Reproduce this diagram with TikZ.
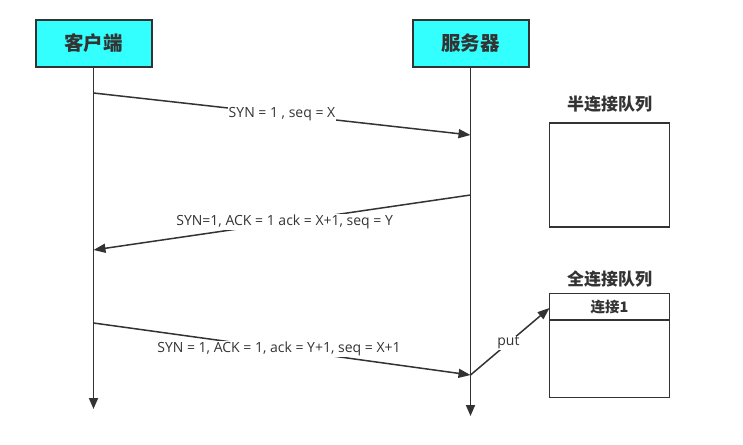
\documentclass[tikz,border=0pt]{standalone}
\usepackage{fontspec}
\setmainfont{Open Sans}
\newfontfamily\cjk{Noto Sans CJK SC}
\usetikzlibrary{arrows.meta}
\definecolor{ink}{HTML}{333333}
\definecolor{cyanfill}{HTML}{33FFFF}
\begin{document}
\begin{tikzpicture}[x=1pt,y=-1pt,
  actor/.style={draw=ink,line width=2pt,fill=cyanfill,minimum width=116pt,minimum height=46pt,inner sep=0pt,font=\cjk\bfseries\fontsize{19.5}{22}\selectfont,text=ink},
  life/.style={draw=ink,line width=1.8pt,-{Triangle[length=11pt,width=9pt]}},
  msg/.style={draw=ink,line width=1.5pt,-{Triangle[length=12pt,width=9pt]}},
  lbl/.style={fill=white,inner sep=1pt,text=ink,font=\fontsize{14}{16}\selectfont},
  qtitle/.style={text=ink,font=\cjk\bfseries\fontsize{17}{19}\selectfont},
  qbox/.style={draw=ink,line width=1.8pt}]
\useasboundingbox (0,0) rectangle (743,444);
\node[actor] (client) at (93.5,43.5) {客户端};
\node[actor] (server) at (470.5,43.5) {服务器};
\coordinate (cend) at (93.5,409);
\coordinate (send) at (470.5,416);
\draw[life] (client.south) -- (cend);
\draw[life] (server.south) -- (send);
% messages
\coordinate (m1a) at (93.5,93);
\coordinate (m1b) at (470.5,135);
\coordinate (m2a) at (470.5,195);
\coordinate (m2b) at (93.5,250);
\coordinate (m3a) at (93.5,323);
\coordinate (m3b) at (470.5,375);
\draw[msg] (m1a) -- node[lbl,pos=0.5] (l1) {SYN = 1 , seq = X} (m1b);
\draw[msg] (m2a) -- node[lbl,pos=0.493] (l2) {SYN=1, ACK = 1 ack = X+1, seq = Y} (m2b);
\draw[msg] (m3a) -- node[lbl,pos=0.492] (l3) {SYN = 1, ACK = 1, ack = Y+1, seq = X+1} (m3b);
% half queue
\node[qtitle] (htitle) at (609.5,104) {半连接队列};
\node[qbox,minimum width=120pt,minimum height=104pt,inner sep=0pt] (hq) at (609.5,175) {};
% full queue
\node[qtitle] (ftitle) at (609.5,279) {全连接队列};
\node[qbox,minimum width=120pt,minimum height=104pt,inner sep=0pt] (fq) at (609.5,345.5) {};
\node[qbox,minimum width=120pt,minimum height=26.5pt,inner sep=0pt,anchor=north,text=ink,font=\cjk\bfseries\fontsize{14.5}{16}\selectfont] (conn1) at (fq.north) {连接1};
\coordinate (puttip) at (549.5,308);
\draw[msg] (m3b) -- node[lbl,pos=0.48] (lput) {put} (puttip);
\end{tikzpicture}
\end{document}
